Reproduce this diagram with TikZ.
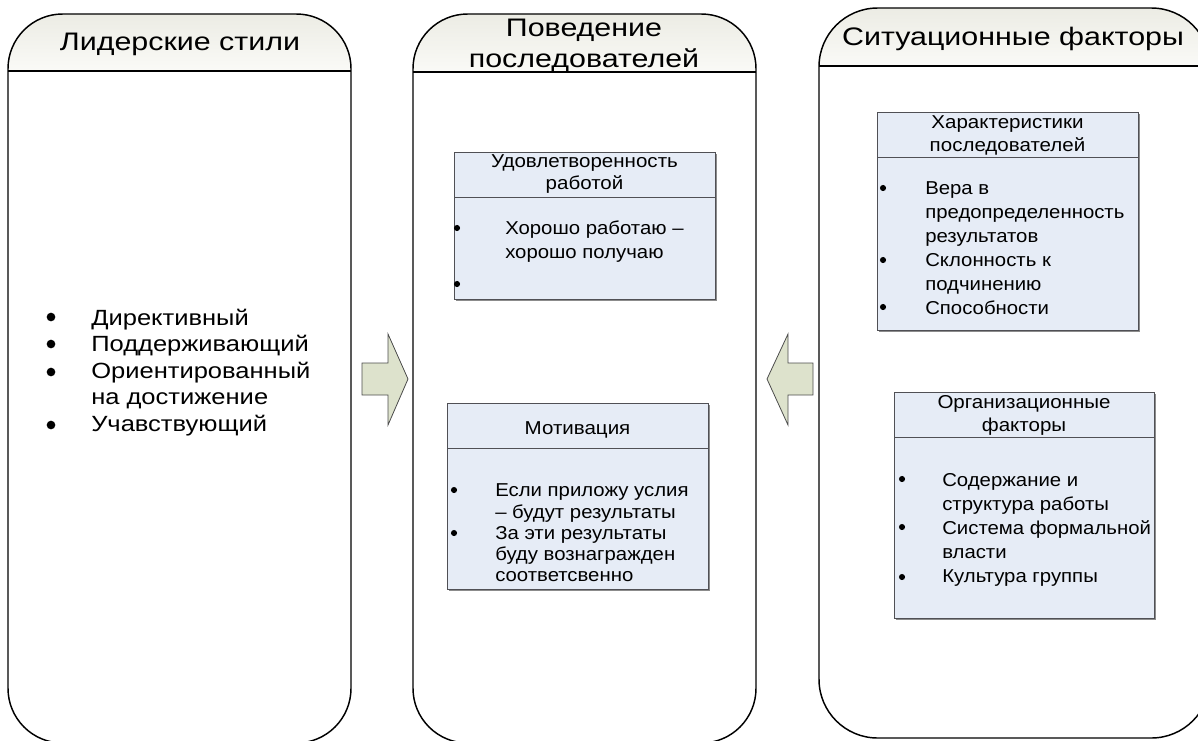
\documentclass[tikz,border=0pt]{standalone}
\usepackage{fontspec}
\usepackage{graphicx}
\setmainfont{Liberation Sans}
\definecolor{hdrtop}{RGB}{236,236,228}
\definecolor{hdrbot}{RGB}{250,250,247}
\definecolor{boxblue}{RGB}{230,236,246}
\definecolor{boxline}{RGB}{80,80,85}
\definecolor{arrowfill}{RGB}{221,226,204}
\newcommand{\hs}[2]{\scalebox{#1}[1]{#2}}
\tikzset{
  cont/.style={draw=black, line width=1.1pt},
  hdrfill/.style={top color=hdrtop, bottom color=hdrbot},
  hdrtitle/.style={font=\fontsize{19}{23}\selectfont, anchor=base, inner sep=0pt},
  lsttext/.style={font=\fontsize{16.5}{20}\selectfont, anchor=base west, inner sep=0pt},
  boxtitle/.style={font=\fontsize{14}{16}\selectfont, anchor=base, inner sep=0pt},
  boxtext/.style={font=\fontsize{14}{17}\selectfont, anchor=base west, inner sep=0pt},
  innerbox/.style={draw=boxline, fill=boxblue, line width=0.7pt},
  shadowbox/.style={fill=black!45},
  bigbul/.style={circle, fill=black, inner sep=0pt, minimum size=6.5pt},
  smallbul/.style={circle, fill=black, inner sep=0pt, minimum size=4.6pt},
  blockarrow/.style={draw=black!70, fill=arrowfill, line width=0.6pt, line join=miter}
}
\begin{document}
\begin{tikzpicture}[x=0.75pt,y=-0.75pt]
\useasboundingbox (0,0) rectangle (1198,740);
\clip (0,0) rectangle (1198,740);

% ---------- containers ----------
% left
\begin{scope}
  \clip[rounded corners=41pt] (8,743) -- (8,14) -- (351,14) -- (351,743) -- cycle;
  \fill[hdrfill] (8,14) rectangle (351,71);
\end{scope}
\draw[cont, rounded corners=41pt] (8,743) -- (8,14) -- (351,14) -- (351,743) -- cycle;
\draw[cont] (8,71) -- (351,71);
% middle
\begin{scope}
  \clip[rounded corners=41pt] (413,743) -- (413,14) -- (756,14) -- (756,743) -- cycle;
  \fill[hdrfill] (413,14) rectangle (756,72);
\end{scope}
\draw[cont, rounded corners=41pt] (413,743) -- (413,14) -- (756,14) -- (756,743) -- cycle;
\draw[cont] (413,72) -- (756,72);
% right
\begin{scope}
  \clip[rounded corners=44pt] (819,738) -- (819,8) -- (1210,8) -- (1210,738) -- cycle;
  \fill[hdrfill] (819,8) rectangle (1210,66);
\end{scope}
\draw[cont, rounded corners=44pt] (819,738) -- (819,8) -- (1210,8) -- (1210,738) -- cycle;
\draw[cont] (819,66) -- (1210,66);

% ---------- header titles ----------
\node[hdrtitle] (tL) at (180,50) {\hs{1.2}{Лидерские стили}};
\node[hdrtitle] (tM1) at (584,36) {\hs{1.2}{Поведение}};
\node[hdrtitle] (tM2) at (584,67) {\hs{1.2}{последователей}};
\node[hdrtitle] (tR) at (1013,45) {\hs{1.2}{Ситуационные факторы}};

% ---------- left list ----------
\node[bigbul] (lb1) at (51,317) {};
\node[bigbul] (lb2) at (51,344) {};
\node[bigbul] (lb3) at (51,372) {};
\node[bigbul] (lb4) at (51,425) {};
\node[lsttext] (l1) at (91,325) {\hs{1.16}{Директивный}};
\node[lsttext] (l2) at (91,351) {\hs{1.16}{Поддерживающий}};
\node[lsttext] (l3) at (91,378) {\hs{1.16}{Ориентированный}};
\node[lsttext] (l4) at (91,404) {\hs{1.16}{на достижение}};
\node[lsttext] (l5) at (91,431) {\hs{1.16}{Учавствующий}};

% ---------- middle box 1 ----------
\fill[shadowbox] (456,154) rectangle (717,301);
\draw[innerbox] (454,152) rectangle (715,299);
\draw[boxline, line width=0.7pt] (454,197) -- (715,197);
\node[boxtitle] (a1) at (584.5,167) {\hs{1.1}{Удовлетворенность}};
\node[boxtitle] (a2) at (584.5,189) {\hs{1.1}{работой}};
\node[smallbul] (ab1) at (457,228) {};
\node[smallbul] (ab2) at (457,284) {};
\node[boxtext] (a3) at (505,234) {\hs{1.09}{Хорошо работаю –}};
\node[boxtext] (a4) at (505,258) {\hs{1.09}{хорошо получаю}};

% ---------- middle box 2 ----------
\fill[shadowbox] (449,405) rectangle (710,591);
\draw[innerbox] (447,403) rectangle (708,589);
\draw[boxline, line width=0.7pt] (447,448) -- (708,448);
\node[boxtitle] (b1) at (577.5,434) {\hs{1.1}{Мотивация}};
\node[smallbul] (bb1) at (454,490) {};
\node[smallbul] (bb2) at (454,533) {};
\node[boxtext] (b2) at (495,496) {\hs{1.09}{Если приложу услия}};
\node[boxtext] (b3) at (495,518) {\hs{1.09}{– будут результаты}};
\node[boxtext] (b4) at (495,539) {\hs{1.09}{За эти результаты}};
\node[boxtext] (b5) at (495,560) {\hs{1.09}{буду вознагражден}};
\node[boxtext] (b6) at (495,581) {\hs{1.09}{соответсвенно}};

% ---------- right box 1 ----------
\fill[shadowbox] (879,114) rectangle (1140,332);
\draw[innerbox] (877,112) rectangle (1138,330);
\draw[boxline, line width=0.7pt] (877,157) -- (1138,157);
\node[boxtitle] (c1) at (1007.5,128) {\hs{1.1}{Характеристики}};
\node[boxtitle] (c2) at (1007.5,151) {\hs{1.1}{последователей}};
\node[smallbul] (cb1) at (883,188) {};
\node[smallbul] (cb2) at (883,260) {};
\node[smallbul] (cb3) at (883,307) {};
\node[boxtext] (c3) at (925,194) {\hs{1.09}{Вера в}};
\node[boxtext] (c4) at (925,218) {\hs{1.09}{предопределенность}};
\node[boxtext] (c5) at (925,242) {\hs{1.09}{результатов}};
\node[boxtext] (c6) at (925,266) {\hs{1.09}{Склонность к}};
\node[boxtext] (c7) at (925,290) {\hs{1.09}{подчинению}};
\node[boxtext] (c8) at (925,314) {\hs{1.09}{Способности}};

% ---------- right box 2 ----------
\fill[shadowbox] (896,394) rectangle (1156,620);
\draw[innerbox] (894,392) rectangle (1154,618);
\draw[boxline, line width=0.7pt] (894,437) -- (1154,437);
\node[boxtitle] (d1) at (1024,408) {\hs{1.1}{Организационные}};
\node[boxtitle] (d2) at (1024,431) {\hs{1.1}{факторы}};
\node[smallbul] (db1) at (902,479) {};
\node[smallbul] (db2) at (902,527) {};
\node[smallbul] (db3) at (902,577) {};
\node[boxtext] (d3) at (942,486) {\hs{1.09}{Содержание и}};
\node[boxtext] (d4) at (942,510) {\hs{1.09}{структура работы}};
\node[boxtext] (d5) at (942,534) {\hs{1.09}{Система формальной}};
\node[boxtext] (d6) at (942,558) {\hs{1.09}{власти}};
\node[boxtext] (d7) at (942,582) {\hs{1.09}{Культура группы}};

% ---------- block arrows ----------
\draw[blockarrow] (362,363) -- (388,363) -- (388,334) -- (408,379) -- (388,425) -- (388,395) -- (362,395) -- cycle;
\draw[blockarrow] (813,363) -- (788,363) -- (788,334) -- (767,379) -- (788,425) -- (788,395) -- (813,395) -- cycle;
\end{tikzpicture}
\end{document}
